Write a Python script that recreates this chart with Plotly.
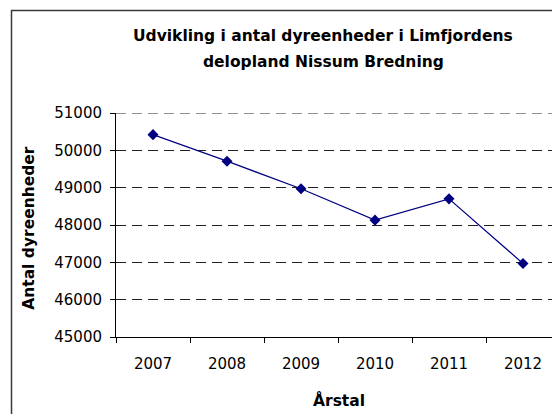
import plotly.graph_objects as go

# Data
years = ["2007", "2008", "2009", "2010", "2011", "2012"]
dyreenheder = [50420, 49710, 48970, 48130, 48700, 46970]
y_ticks = [45000, 46000, 47000, 48000, 49000, 50000, 51000]

title_line1 = "Udvikling i antal dyreenheder i Limfjordens"
title_line2 = "delopland Nissum Bredning"
x_title = "Årstal"
y_title = "Antal dyreenheder"

FONT = "DejaVu Sans"
NAVY = "#000080"
GRID = "#222222"

fig = go.Figure()
fig.add_trace(go.Scatter(
    x=years, y=dyreenheder, mode="lines+markers",
    line=dict(color=NAVY, width=1.2),
    marker=dict(symbol="diamond", size=8.5, color=NAVY, line=dict(width=0)),
    showlegend=False, hoverinfo="skip",
))

# The page body has an 8px default margin, so the figure is 552x406
fig.update_layout(
    width=552, height=406,
    margin=dict(l=108, r=0, t=105, b=77),
    paper_bgcolor="white", plot_bgcolor="white",
    font=dict(family=FONT, size=15, color="black"),
    showlegend=False,
    xaxis=dict(
        type="category", range=[-0.5, 5.5],
        showline=True, linecolor="black", linewidth=1,
        ticks="outside", ticklen=5, tickcolor="black", tickwidth=1,
        tickson="boundaries", showgrid=False, zeroline=False,
        tickfont=dict(family=FONT, size=15, color="black"),
        ticklabelstandoff=13,
    ),
    yaxis=dict(
        range=[45000, 51000], tickvals=y_ticks,
        ticktext=[str(v) for v in y_ticks],
        showline=True, linecolor="black", linewidth=1,
        ticks="outside", ticklen=5, tickcolor="black", tickwidth=1,
        showgrid=True, gridcolor=GRID, gridwidth=1, griddash="10px,6px",
        zeroline=False,
        tickfont=dict(family=FONT, size=15, color="black"),
        ticklabelstandoff=5,
    ),
)

# top gridline (at the edge of the plot area)
fig.add_shape(type="line", xref="paper", yref="y", x0=0, x1=1,
              y0=y_ticks[-1], y1=y_ticks[-1],
              line=dict(color=GRID, width=1, dash="10px,6px"), layer="below")

def px_x(px):
    return (px - 116) / 444

def px_y(py):
    return (337 - py) / 224

fig.add_annotation(text="<b>" + title_line1 + "</b>", xref="paper", yref="paper",
                   x=px_x(323), y=px_y(36.0), xanchor="center", yanchor="middle",
                   showarrow=False, font=dict(family=FONT, size=15.5, color="black"))
fig.add_annotation(text="<b>" + title_line2 + "</b>", xref="paper", yref="paper",
                   x=px_x(323), y=px_y(62.0), xanchor="center", yanchor="middle",
                   showarrow=False, font=dict(family=FONT, size=15.5, color="black"))
fig.add_annotation(text="<b>" + x_title + "</b>", xref="paper", yref="paper",
                   x=px_x(339), y=px_y(400.5), xanchor="center", yanchor="middle",
                   showarrow=False, font=dict(family=FONT, size=15.5, color="black"))
fig.add_annotation(text="<b>" + y_title + "</b>", xref="paper", yref="paper",
                   x=px_x(28.3), y=px_y(227.5), xanchor="center", yanchor="middle",
                   textangle=-90, showarrow=False,
                   font=dict(family=FONT, size=15.5, color="black"))

# chart-area border (extends beyond the visible crop on right and bottom)
fig.add_shape(type="rect", xref="paper", yref="paper",
              x0=px_x(11.5), x1=1.2, y0=-0.6, y1=px_y(10.5),
              line=dict(color="#3a3a3a", width=1.5), fillcolor="rgba(0,0,0,0)",
              layer="above")

fig.write_html("out.html")
